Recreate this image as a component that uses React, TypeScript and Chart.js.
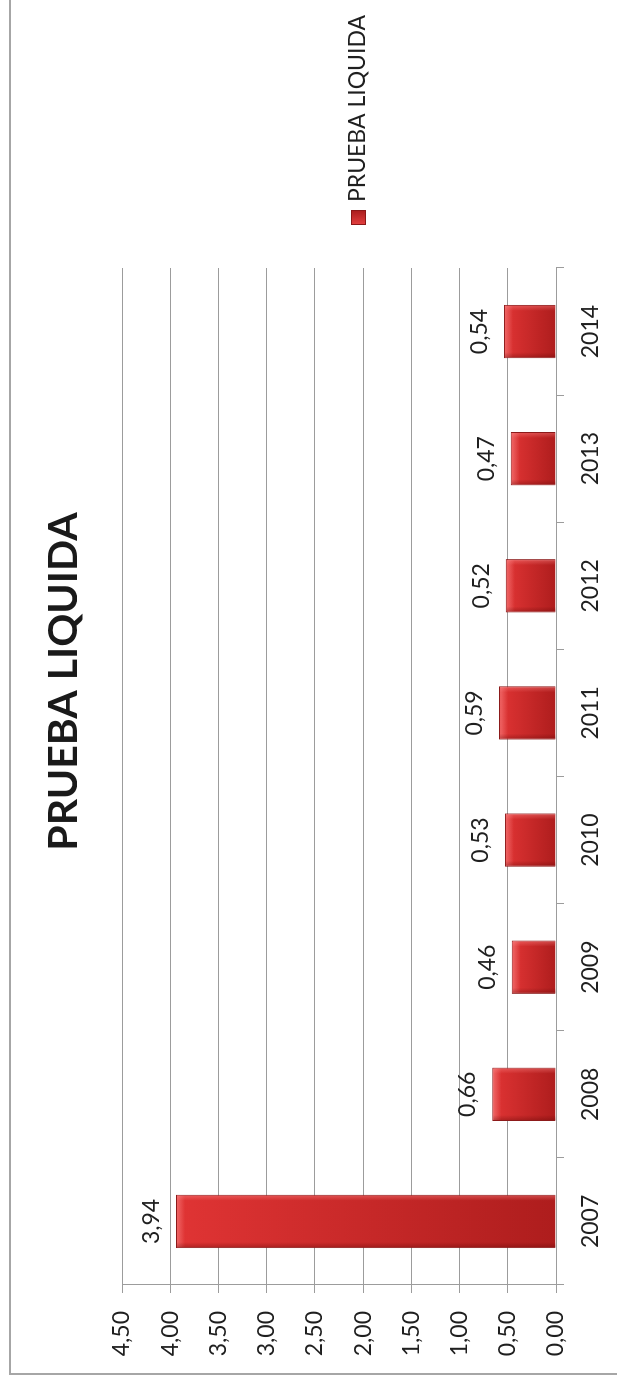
import React, { useEffect, useRef } from "react";
import { Chart, registerables } from "chart.js";

Chart.register(...registerables);

// ---- data ----
const categories = ["2007", "2008", "2009", "2010", "2011", "2012", "2013", "2014"];
const values = [3.94, 0.66, 0.46, 0.53, 0.59, 0.52, 0.47, 0.54];
const seriesName = "PRUEBA LIQUIDA";
const chartTitle = "PRUEBA LIQUIDA";
const valueTickLabels = ["0,00", "0,50", "1,00", "1,50", "2,00", "2,50", "3,00", "3,50", "4,00", "4,50"];

// original (unrotated) chart size
const W = 1381;
const H = 617;

const FONT = "Lato, 'Open Sans', sans-serif";
const fmt = (v: number) => v.toFixed(2).replace(".", ",");

const decorPlugin = {
  id: "decor",
  afterDatasetsDraw(chart: any) {
    const ctx = chart.ctx as CanvasRenderingContext2D;
    const meta = chart.getDatasetMeta(0);
    ctx.save();
    meta.data.forEach((bar: any, i: number) => {
      const p = bar.getProps(["x", "y", "base", "width"], true);
      const left = p.x - p.width / 2;
      const right = p.x + p.width / 2;
      const top = p.y;
      const bottom = p.base;
      const h = bottom - top;
      // bevel: light top end
      const gTop = ctx.createLinearGradient(0, top, 0, top + 9);
      gTop.addColorStop(0, "rgba(255,150,150,0.55)");
      gTop.addColorStop(1, "rgba(255,150,150,0)");
      ctx.fillStyle = gTop;
      ctx.fillRect(left + 1, top + 1, p.width - 2, Math.min(9, h - 1));
      // light right side
      const gR = ctx.createLinearGradient(right - 6, 0, right, 0);
      gR.addColorStop(0, "rgba(255,140,140,0)");
      gR.addColorStop(1, "rgba(255,140,140,0.45)");
      ctx.fillStyle = gR;
      ctx.fillRect(right - 6, top + 1, 5, h - 1);
      // darker left side
      const gL = ctx.createLinearGradient(left, 0, left + 6, 0);
      gL.addColorStop(0, "rgba(80,0,0,0.35)");
      gL.addColorStop(1, "rgba(80,0,0,0)");
      ctx.fillStyle = gL;
      ctx.fillRect(left + 1, top + 1, 6, h - 1);

      // value label
      ctx.font = `23px ${FONT}`;
      ctx.fillStyle = "#1f1f1f";
      ctx.textAlign = "center";
      ctx.textBaseline = "alphabetic";
      ctx.fillText(fmt(values[i]), p.x, top - 17);
    });

    // title
    ctx.font = `bold 41px ${FONT}`;
    ctx.fillStyle = "#1a1a1a";
    ctx.textAlign = "center";
    ctx.textBaseline = "alphabetic";
    ctx.fillText(chartTitle, 699.5, 77);

    // legend
    const bx = 1156, by = 351, bs = 15;
    const lg = ctx.createLinearGradient(bx, 0, bx + bs, 0);
    lg.addColorStop(0, "#e44040");
    lg.addColorStop(1, "#a81c1c");
    ctx.fillStyle = lg;
    ctx.fillRect(bx, by, bs, bs);
    ctx.strokeStyle = "#8a1818";
    ctx.lineWidth = 1;
    ctx.strokeRect(bx + 0.5, by + 0.5, bs - 1, bs - 1);
    ctx.font = `23px ${FONT}`;
    ctx.fillStyle = "#1f1f1f";
    ctx.textAlign = "left";
    ctx.fillText(seriesName, 1179, 365);
    ctx.restore();
  },
};

export default function App() {
  const canvasRef = useRef<HTMLCanvasElement | null>(null);

  useEffect(() => {
    const canvas = canvasRef.current;
    if (!canvas) return;
    const chart = new Chart(canvas, {
      type: "bar",
      data: {
        labels: categories,
        datasets: [
          {
            label: seriesName,
            data: values,
            backgroundColor: (c: any) => {
              const ch = c.chart;
              if (!ch.chartArea || c.type !== "data") return "#c82626";
              const ys = ch.scales.y;
              const top = ys.getPixelForValue(c.raw as number);
              const base = ys.getPixelForValue(0);
              const g = ch.ctx.createLinearGradient(0, top, 0, base);
              g.addColorStop(0, "#e03434");
              g.addColorStop(1, "#ae1d1d");
              return g;
            },
            borderColor: "#8c1a1a",
            borderWidth: 1,
            barPercentage: 0.42,
            categoryPercentage: 1.0,
          },
        ],
      },
      options: {
        responsive: false,
        animation: false,
        devicePixelRatio: 1,
        layout: { padding: { left: 0, top: 122, right: W - 1113, bottom: 0 } },
        plugins: {
          legend: { display: false },
          title: { display: false },
          tooltip: { enabled: false },
        },
        scales: {
          x: {
            type: "category",
            grid: {
              offset: true,
              drawOnChartArea: false,
              drawTicks: true,
              tickLength: 8,
              color: "#9c9c9c",
            },
            border: { display: true, color: "#9c9c9c" },
            ticks: {
              autoSkip: false,
              maxRotation: 0,
              minRotation: 0,
              padding: 13,
              color: "#1f1f1f",
              font: { family: FONT, size: 23 },
            },
            afterFit: (s: any) => {
              s.height = 61;
            },
          },
          y: {
            min: 0,
            max: 4.5,
            ticks: {
              stepSize: 0.5,
              padding: 18,
              color: "#1f1f1f",
              font: { family: FONT, size: 23 },
              callback: (_v: any, idx: number) => valueTickLabels[idx],
            },
            grid: {
              drawTicks: true,
              tickLength: 8,
              color: "#9c9c9c",
            },
            border: { display: true, color: "#9c9c9c" },
            afterFit: (s: any) => {
              s.width = 96;
            },
          },
        },
      },
      plugins: [decorPlugin],
    });
    return () => chart.destroy();
  }, []);

  return (
    <div
      style={{
        position: "fixed",
        left: 0,
        top: 0,
        width: W,
        height: H,
        overflow: "hidden",
        background: "#ffffff",
        transformOrigin: "top left",
        transform: `translateY(${W}px) rotate(-90deg)`,
      }}
    >
      <div
        style={{
          position: "absolute",
          left: 6,
          top: 9,
          width: W + 50,
          height: H + 50,
          borderLeft: "2px solid #a6a6a6",
          borderTop: "2px solid #a6a6a6",
          boxSizing: "border-box",
        }}
      />
      <canvas
        ref={canvasRef}
        width={W}
        height={H}
        style={{ position: "absolute", left: 0, top: 0, width: W, height: H }}
      />
    </div>
  );
}
